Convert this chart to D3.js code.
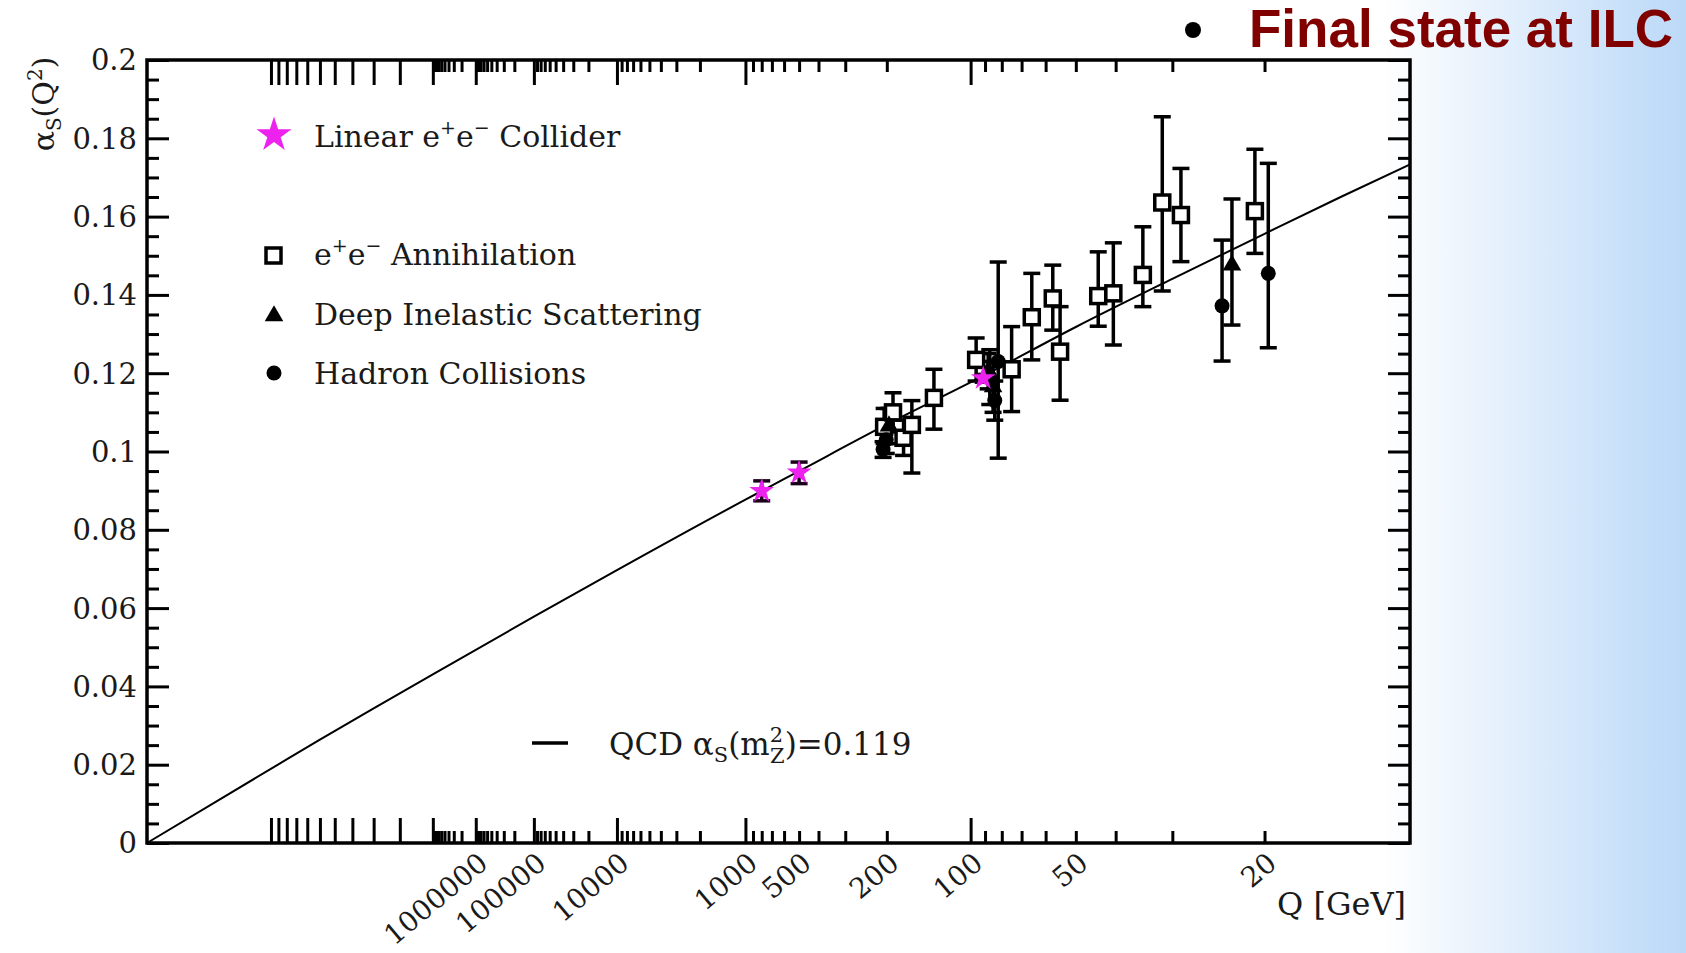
<!DOCTYPE html>
<html>
<head>
<meta charset="utf-8">
<script src="https://cdn.jsdelivr.net/npm/d3@7"></script>
<style>
  html, body { margin: 0; padding: 0; background: #fff; }
  svg { display: block; }
</style>
</head>
<body>
<svg id="chart" width="1686" height="953"></svg>
<script>
// ---------------------------------------------------------------------------
// Data: strong coupling alpha_s versus energy scale Q [GeV]
// ---------------------------------------------------------------------------

// e+e- annihilation (open squares): Q, alpha_s, lower and upper error bounds
const eeQ     = [205, 189, 172, 160, 133, 96, 74.8, 65.5, 57.4, 54.9, 44.0, 40.5, 34.7, 31.5, 28.8, 20.8];
const eeAlpha = [0.1063, 0.1100, 0.1035, 0.1068, 0.1137, 0.1234, 0.1210, 0.1343, 0.1391, 0.1255, 0.1397, 0.1404, 0.1451, 0.1636, 0.1604, 0.1614];
const eeLo    = [0.1020, 0.1050, 0.0990, 0.0945, 0.1057, 0.1180, 0.1102, 0.1234, 0.1310, 0.1131, 0.1320, 0.1272, 0.1370, 0.1410, 0.1485, 0.1506];
const eeHi    = [0.1110, 0.1150, 0.1080, 0.1130, 0.1210, 0.1290, 0.1319, 0.1455, 0.1476, 0.1370, 0.1510, 0.1533, 0.1574, 0.1855, 0.1723, 0.1772];

// Deep inelastic scattering (filled triangles)
const disQ     = [196, 88, 85, 22.9];
const disAlpha = [0.1065, 0.1205, 0.1165, 0.1476];
const disLo    = [0.1020, 0.1160, 0.1100, 0.1323];
const disHi    = [0.1110, 0.1250, 0.1230, 0.1645];

// Hadron collisions (filled circles)
const hadQ     = [207, 201, 87, 82, 84, 23.9, 19.7];
const hadAlpha = [0.1005, 0.1030, 0.1190, 0.1230, 0.1130, 0.1372, 0.1455];
const hadLo    = [0.0985, 0.0995, 0.1120, 0.0983, 0.1080, 0.1231, 0.1265];
const hadHi    = [0.1025, 0.1070, 0.1260, 0.1484, 0.1180, 0.1540, 0.1736];

// Linear e+e- collider projections (magenta stars)
const lcQ     = [800, 500, 91.2];
const lcAlpha = [0.0899, 0.0946, 0.1187];
const lcLo    = [0.0874, 0.0918, 0.1177];
const lcHi    = [0.0925, 0.0973, 0.1197];

// QCD running curve, alpha_s(m_Z^2) = 0.119
const qcdQ     = [Infinity, 1e16, 1e12, 1e9, 1e7, 1e5, 1e4, 1e3, 500, 200, 91.2, 50, 30, 20, 15, 11.9];
const qcdAlpha = [0, 0.0201, 0.0264, 0.0344, 0.0431, 0.0578, 0.0697, 0.0877, 0.0950, 0.1069, 0.1193, 0.1318, 0.1441, 0.1556, 0.1650, 0.1733];

// Axis ticks
const yMajorTicks = [0, 0.02, 0.04, 0.06, 0.08, 0.1, 0.12, 0.14, 0.16, 0.18, 0.2];
const yTickText   = ["0", "0.02", "0.04", "0.06", "0.08", "0.1", "0.12", "0.14", "0.16", "0.18", "0.2"];
const xDecadeTicks = [1e17, 1e16, 1e15, 1e14, 1e13, 1e12, 1e11, 1e10, 1e9, 1e8, 1e7, 1e6, 1e5, 1e4, 1e3, 1e2];
const xLabelTicks  = [1000000, 100000, 10000, 1000, 500, 200, 100, 50, 20];

// ---------------------------------------------------------------------------
// Layout
// ---------------------------------------------------------------------------
const W = 1686, H = 953;
const plot = { left: 147, right: 1410, top: 60, bottom: 843 };
const LAMBDA = 0.22;      // scale parameter of the 1/ln(Q/Lambda) axis
const U_MAX = 0.2506;     // value of 1/ln(Q/Lambda) at the right frame edge

const svg = d3.select("#chart");

// Slide background: white fading to light blue at the right
const defs = svg.append("defs");
const grad = defs.append("linearGradient").attr("id", "bg").attr("x1", "0").attr("x2", "1").attr("y1", "0").attr("y2", "0");
grad.append("stop").attr("offset", "0").attr("stop-color", "#ffffff");
grad.append("stop").attr("offset", "0.82").attr("stop-color", "#ffffff");
grad.append("stop").attr("offset", "0.97").attr("stop-color", "#c6dff9");
grad.append("stop").attr("offset", "1").attr("stop-color", "#bcd9f8");
svg.append("rect").attr("width", W).attr("height", H).attr("fill", "url(#bg)");

// Scales
const uScale = d3.scaleLinear().domain([0, U_MAX]).range([plot.left, plot.right]);
const toU = q => 1 / Math.log(q / LAMBDA);
function makeQScale() {
  const s = q => uScale(toU(q));
  s.domain = () => [Infinity, LAMBDA * Math.exp(1 / U_MAX)];
  s.range = () => uScale.range();
  s.copy = () => makeQScale();
  return s;
}
const x = makeQScale();
const y = d3.scaleLinear().domain([0, 0.2]).range([plot.bottom, plot.top]);

const serif = "'DejaVu Serif', serif";
const tickStroke = 3;

// Minor tick positions
const xMinorTicks = [];
[1e1, 1e2, 1e3, 1e4, 1e5, 1e6].forEach(d => { for (let m = 2; m <= 9; m++) xMinorTicks.push(m * d); });
const yMinorTicks = d3.range(0, 41).map(i => i * 0.005).filter((v, i) => i % 4 !== 0);

function styleAxis(g) {
  g.select(".domain").remove();
  g.selectAll(".tick line").attr("stroke", "#000").attr("stroke-width", tickStroke);
  g.selectAll(".tick text").remove();
}

// Bottom and top axes (ticks point inward)
[[d3.axisBottom, plot.bottom], [d3.axisTop, plot.top]].forEach(([axisFn, pos]) => {
  svg.append("g").attr("transform", `translate(0,${pos})`)
    .call(axisFn(x).tickValues(xMinorTicks).tickSize(-12)).call(styleAxis);
  svg.append("g").attr("transform", `translate(0,${pos})`)
    .call(axisFn(x).tickValues(xDecadeTicks).tickSize(-25)).call(styleAxis);
});

// Left and right axes
[[d3.axisLeft, plot.left], [d3.axisRight, plot.right]].forEach(([axisFn, pos]) => {
  svg.append("g").attr("transform", `translate(${pos},0)`)
    .call(axisFn(y).tickValues(yMinorTicks).tickSize(-12)).call(styleAxis);
  svg.append("g").attr("transform", `translate(${pos},0)`)
    .call(axisFn(y).tickValues(yMajorTicks).tickSize(-22)).call(styleAxis);
});

// Y tick labels
svg.append("g").selectAll("text").data(yMajorTicks).join("text")
  .attr("x", plot.left - 10).attr("y", d => y(d)).attr("dy", "0.36em")
  .attr("text-anchor", "end").attr("font-family", serif).attr("font-size", 29).attr("fill", "#1a1a1a")
  .text((d, i) => yTickText[i]);

// X tick labels, rotated
svg.append("g").selectAll("text").data(xLabelTicks).join("text")
  .attr("transform", d => `translate(${x(d) + 14},${plot.bottom + 23}) rotate(-40)`)
  .attr("text-anchor", "end").attr("font-family", serif).attr("font-size", 28).attr("fill", "#1a1a1a")
  .text(d => String(d));

// Axis titles
svg.append("text").attr("x", 1406).attr("y", 915).attr("text-anchor", "end")
  .attr("font-family", serif).attr("font-size", 32).attr("fill", "#1a1a1a").text("Q [GeV]");

const yTitle = svg.append("text").attr("transform", "translate(54,104) rotate(-90)")
  .attr("text-anchor", "middle").attr("font-family", serif).attr("font-size", 30).attr("fill", "#1a1a1a");
yTitle.append("tspan").text("α");
yTitle.append("tspan").attr("font-size", 20).attr("dy", 7).text("S");
yTitle.append("tspan").attr("dy", -7).text("(Q");
yTitle.append("tspan").attr("font-size", 20).attr("dy", -12).text("2");
yTitle.append("tspan").attr("dy", 12).text(")");

// QCD curve
const curvePts = qcdQ.map((q, i) => [q, qcdAlpha[i]]);
svg.append("path").datum(curvePts)
  .attr("d", d3.line().x(d => x(d[0])).y(d => y(d[1])).curve(d3.curveMonotoneX))
  .attr("fill", "none").attr("stroke", "#000").attr("stroke-width", 2);

// Error bars
function errorBars(Q, lo, hi, color) {
  const g = svg.append("g").attr("stroke", color).attr("stroke-width", 3.5).attr("fill", "none");
  Q.forEach((q, i) => {
    const cx = x(q);
    g.append("line").attr("x1", cx).attr("x2", cx).attr("y1", y(lo[i])).attr("y2", y(hi[i]));
    g.append("line").attr("x1", cx - 8.5).attr("x2", cx + 8.5).attr("y1", y(lo[i])).attr("y2", y(lo[i]));
    g.append("line").attr("x1", cx - 8.5).attr("x2", cx + 8.5).attr("y1", y(hi[i])).attr("y2", y(hi[i]));
  });
}
errorBars(eeQ, eeLo, eeHi, "#000");
errorBars(disQ, disLo, disHi, "#000");
errorBars(hadQ, hadLo, hadHi, "#000");
errorBars(lcQ, lcLo, lcHi, "#1a001a");

// Markers
const sq = 15;
svg.append("g").selectAll("rect").data(eeQ).join("rect")
  .attr("x", (d) => x(d) - sq / 2).attr("y", (d, i) => y(eeAlpha[i]) - sq / 2)
  .attr("width", sq).attr("height", sq)
  .attr("fill", "#fff").attr("stroke", "#000").attr("stroke-width", 3.5);

svg.append("g").selectAll("path").data(disQ).join("path")
  .attr("transform", (d, i) => `translate(${x(d)},${y(disAlpha[i])})`)
  .attr("d", d3.symbol(d3.symbolTriangle, 150)).attr("fill", "#000");

svg.append("g").selectAll("circle").data(hadQ).join("circle")
  .attr("cx", d => x(d)).attr("cy", (d, i) => y(hadAlpha[i])).attr("r", 7.5).attr("fill", "#000");

svg.append("g").selectAll("path").data(lcQ).join("path")
  .attr("transform", (d, i) => `translate(${x(d)},${y(lcAlpha[i])})`)
  .attr("d", d3.symbol(d3.symbolStar, 190)).attr("fill", "#ee22ee");

// Frame
svg.append("rect").attr("x", plot.left).attr("y", plot.top)
  .attr("width", plot.right - plot.left).attr("height", plot.bottom - plot.top)
  .attr("fill", "none").attr("stroke", "#000").attr("stroke-width", 3.5);

// Legend
const legend = svg.append("g").attr("font-family", serif).attr("font-size", 30).attr("fill", "#1a1a1a");
legend.append("path").attr("transform", "translate(274,135)").attr("d", d3.symbol(d3.symbolStar, 380)).attr("fill", "#ee22ee");
const t1 = legend.append("text").attr("x", 314).attr("y", 147);
t1.append("tspan").text("Linear e");
t1.append("tspan").attr("font-size", 19).attr("dy", -13).text("+");
t1.append("tspan").attr("dy", 13).text("e");
t1.append("tspan").attr("font-size", 19).attr("dy", -13).text("−");
t1.append("tspan").attr("dy", 13).text(" Collider");

legend.append("rect").attr("x", 266).attr("y", 248).attr("width", 15).attr("height", 15)
  .attr("fill", "#fff").attr("stroke", "#000").attr("stroke-width", 3.5);
const t2 = legend.append("text").attr("x", 314).attr("y", 265);
t2.append("tspan").text("e");
t2.append("tspan").attr("font-size", 19).attr("dy", -13).text("+");
t2.append("tspan").attr("dy", 13).text("e");
t2.append("tspan").attr("font-size", 19).attr("dy", -13).text("−");
t2.append("tspan").attr("dy", 13).text(" Annihilation");

legend.append("path").attr("transform", "translate(274,316)").attr("d", d3.symbol(d3.symbolTriangle, 150)).attr("fill", "#000");
legend.append("text").attr("x", 314).attr("y", 325).text("Deep Inelastic Scattering");

legend.append("circle").attr("cx", 274).attr("cy", 373).attr("r", 7.5).attr("fill", "#000");
legend.append("text").attr("x", 314).attr("y", 384).text("Hadron Collisions");

legend.append("line").attr("x1", 532).attr("x2", 568).attr("y1", 743).attr("y2", 743)
  .attr("stroke", "#000").attr("stroke-width", 3.5);
const t5 = legend.append("text").attr("x", 609).attr("y", 755).attr("font-size", 31);
t5.append("tspan").text("QCD α");
t5.append("tspan").attr("font-size", 21).attr("dy", 7).text("S");
t5.append("tspan").attr("dy", -7).text("(m");
t5.append("tspan").attr("font-size", 21).attr("dy", -13).text("2");
t5.append("tspan").attr("font-size", 21).attr("dx", -13).attr("dy", 21).text("Z");
t5.append("tspan").attr("dy", -8).text(")=0.119");

// Slide heading
svg.append("circle").attr("cx", 1193).attr("cy", 30).attr("r", 8).attr("fill", "#000");
svg.append("text").attr("x", 1249).attr("y", 47)
  .attr("font-family", "'Liberation Sans', Arial, sans-serif").attr("font-weight", "bold")
  .attr("font-size", 53).attr("fill", "#800000").text("Final state at ILC");
</script>
</body>
</html>
